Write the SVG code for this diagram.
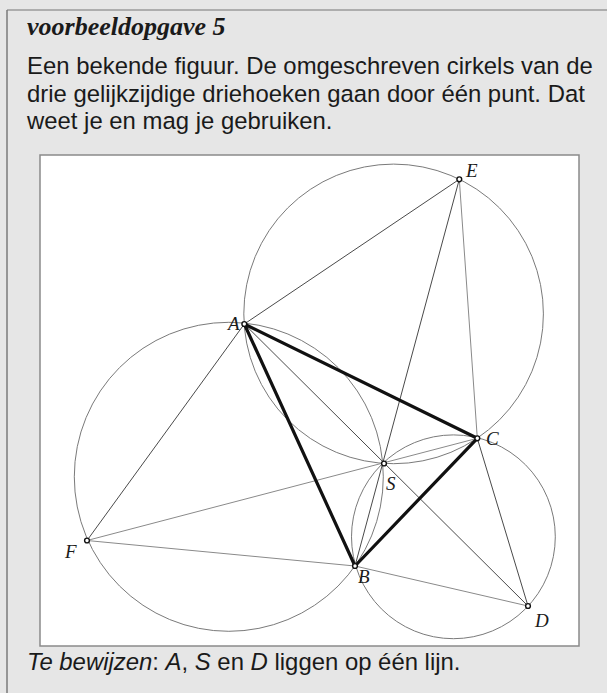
<svg xmlns="http://www.w3.org/2000/svg" width="607" height="693" viewBox="0 0 607 693">
<style>
.body{font-family:"Liberation Sans",Arial,sans-serif;font-size:23.9px;fill:#1a1a1a}
.title{font-family:"Liberation Serif","Times New Roman",serif;font-size:26px;font-weight:bold;font-style:italic;fill:#1a1a1a}
.lbl{font-family:"Liberation Serif","Times New Roman",serif;font-size:19px;font-style:italic;fill:#1a1a1a}
.circ{fill:none;stroke:#7a7a7a;stroke-width:1}
.thin{stroke:#4a4a4a;stroke-width:1;fill:none}
.light{stroke:#8a8a8a;stroke-width:1;fill:none}
.thick{stroke:#111;stroke-width:3.2;fill:none;stroke-linejoin:round}
.pt{fill:#fff;stroke:#111;stroke-width:1.4}
</style>
<rect x="0" y="0" width="607" height="693" fill="#e6e6e6"/>
<line x1="7" y1="10" x2="607" y2="10" stroke="#9a9a9a" stroke-width="1.5"/>
<line x1="7" y1="10" x2="7" y2="693" stroke="#7a7a7a" stroke-width="1.5"/>
<text class="title" x="27" y="35">voorbeeldopgave 5</text>
<text class="body" x="27" y="74">Een bekende figuur. De omgeschreven cirkels van de</text>
<text class="body" x="27" y="102">drie gelijkzijdige driehoeken gaan door één punt. Dat</text>
<text class="body" x="27" y="129">weet je en mag je gebruiken.</text>
<rect id="frame" x="40" y="155" width="539" height="491" fill="#fff" stroke="#8a8a8a" stroke-width="1.5"/>
<g id="circles">
<circle class="circ" cx="228.8" cy="476.8" r="154.5"/>
<circle class="circ" cx="453.4" cy="536.8" r="101.9"/>
<circle class="circ" cx="393.6" cy="313.9" r="149.8"/>
</g>
<g id="connectors">
<line class="thin" x1="244.3" y1="324" x2="459.3" y2="179.3"/>
<line class="light" x1="459.3" y1="179.3" x2="477.3" y2="438.3"/>
<line class="thin" x1="244.3" y1="324" x2="87" y2="540.5"/>
<line class="light" x1="87" y1="540.5" x2="355" y2="566"/>
<line class="light" x1="355" y1="566" x2="528" y2="606"/>
<line class="thin" x1="528" y1="606" x2="477.3" y2="438.3"/>
<line class="thin" x1="244.3" y1="324" x2="528" y2="606"/>
<line class="thin" x1="355" y1="566" x2="459.3" y2="179.3"/>
<line class="light" x1="87" y1="540.5" x2="477.3" y2="438.3"/>
<polygon class="thick" points="244.3,324 355,566 477.3,438.3"/>
</g>
<g id="A"><circle class="pt" cx="244.3" cy="324" r="2.4"/><text class="lbl" x="228" y="330">A</text></g>
<g id="B"><circle class="pt" cx="355" cy="566" r="2.4"/><text class="lbl" x="358" y="583">B</text></g>
<g id="C"><circle class="pt" cx="477.3" cy="438.3" r="2.4"/><text class="lbl" x="486" y="445">C</text></g>
<g id="D"><circle class="pt" cx="528" cy="606" r="2.4"/><text class="lbl" x="535" y="627">D</text></g>
<g id="E"><circle class="pt" cx="459.3" cy="179.3" r="2.4"/><text class="lbl" x="466" y="177">E</text></g>
<g id="F"><circle class="pt" cx="87" cy="540.5" r="2.4"/><text class="lbl" x="65" y="558">F</text></g>
<g id="S"><circle class="pt" cx="384" cy="463.5" r="2.4"/><text class="lbl" x="386" y="490">S</text></g>
<text class="body" x="27" y="670"><tspan font-style="italic">Te bewijzen</tspan>: <tspan font-style="italic">A</tspan>, <tspan font-style="italic">S</tspan> en <tspan font-style="italic">D</tspan> liggen op één lijn.</text>
</svg>
